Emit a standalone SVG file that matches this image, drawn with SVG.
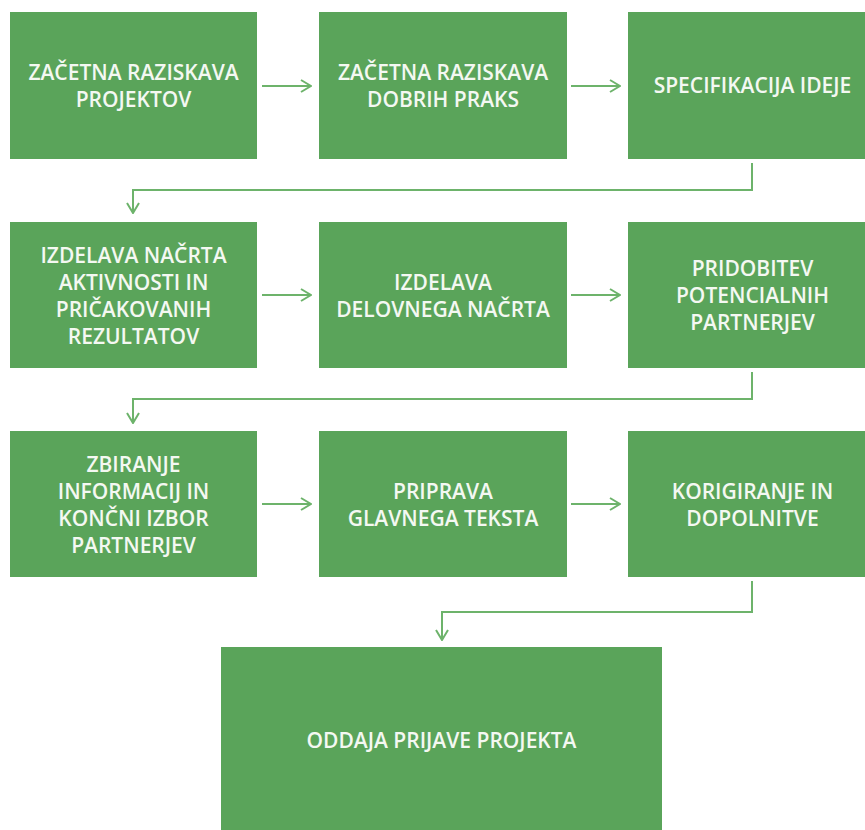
<svg xmlns="http://www.w3.org/2000/svg" width="865" height="830" viewBox="0 0 865 830">
<style>
.box{fill:#5AA45A;}
.t{font-family:"Open Sans","Liberation Sans",sans-serif;font-size:21px;font-weight:600;fill:#F4F8F2;text-anchor:middle;}
.c{fill:none;stroke:#6DB36B;stroke-width:2;}
</style>
<defs>
<marker id="ah" viewBox="0 0 12 14" refX="11" refY="7" markerWidth="12" markerHeight="14" markerUnits="userSpaceOnUse" orient="auto">
<path d="M1,1 L11,7 L1,13" fill="none" stroke="#6DB36B" stroke-width="2"/>
</marker>
</defs>
<rect width="865" height="830" fill="#FFFFFF"/>
<g id="connectors">
<path class="c" d="M262,86 H311" marker-end="url(#ah)"/>
<path class="c" d="M571,86 H620" marker-end="url(#ah)"/>
<path class="c" d="M752,163 V190 H133 V213" marker-end="url(#ah)"/>
<path class="c" d="M262,295 H311" marker-end="url(#ah)"/>
<path class="c" d="M571,295 H620" marker-end="url(#ah)"/>
<path class="c" d="M752,372 V399 H133 V423" marker-end="url(#ah)"/>
<path class="c" d="M262,504 H311" marker-end="url(#ah)"/>
<path class="c" d="M571,504 H620" marker-end="url(#ah)"/>
<path class="c" d="M752,581 V612 H442 V640" marker-end="url(#ah)"/>
</g>
<g id="n1"><rect class="box" x="10" y="12" width="247" height="147"/>
<text class="t" x="133.5" y="79.5">ZAČETNA RAZISKAVA</text><text class="t" x="133.5" y="107">PROJEKTOV</text></g>
<g id="n2"><rect class="box" x="319" y="12" width="248" height="147"/>
<text class="t" x="443" y="79.5">ZAČETNA RAZISKAVA</text><text class="t" x="443" y="107">DOBRIH PRAKS</text></g>
<g id="n3"><rect class="box" x="628" y="12" width="249" height="147"/>
<text class="t" x="752.5" y="93">SPECIFIKACIJA IDEJE</text></g>
<g id="n4"><rect class="box" x="10" y="222" width="247" height="146"/>
<text class="t" x="133.5" y="262.5">IZDELAVA NAČRTA</text><text class="t" x="133.5" y="289.5">AKTIVNOSTI IN</text><text class="t" x="133.5" y="316.5">PRIČAKOVANIH</text><text class="t" x="133.5" y="343.5">REZULTATOV</text></g>
<g id="n5"><rect class="box" x="319" y="222" width="248" height="146"/>
<text class="t" x="443" y="289.5">IZDELAVA</text><text class="t" x="443" y="317">DELOVNEGA NAČRTA</text></g>
<g id="n6"><rect class="box" x="628" y="222" width="249" height="146"/>
<text class="t" x="752.5" y="276">PRIDOBITEV</text><text class="t" x="752.5" y="303">POTENCIALNIH</text><text class="t" x="752.5" y="330">PARTNERJEV</text></g>
<g id="n7"><rect class="box" x="10" y="431" width="247" height="146"/>
<text class="t" x="133.5" y="472">ZBIRANJE</text><text class="t" x="133.5" y="499">INFORMACIJ IN</text><text class="t" x="133.5" y="526">KONČNI IZBOR</text><text class="t" x="133.5" y="553">PARTNERJEV</text></g>
<g id="n8"><rect class="box" x="319" y="431" width="248" height="146"/>
<text class="t" x="443" y="498.5">PRIPRAVA</text><text class="t" x="443" y="526">GLAVNEGA TEKSTA</text></g>
<g id="n9"><rect class="box" x="628" y="431" width="249" height="146"/>
<text class="t" x="752.5" y="498.5">KORIGIRANJE IN</text><text class="t" x="752.5" y="526">DOPOLNITVE</text></g>
<g id="n10"><rect class="box" x="221" y="647" width="441" height="190"/>
<text class="t" x="441.5" y="748">ODDAJA PRIJAVE PROJEKTA</text></g>
</svg>
